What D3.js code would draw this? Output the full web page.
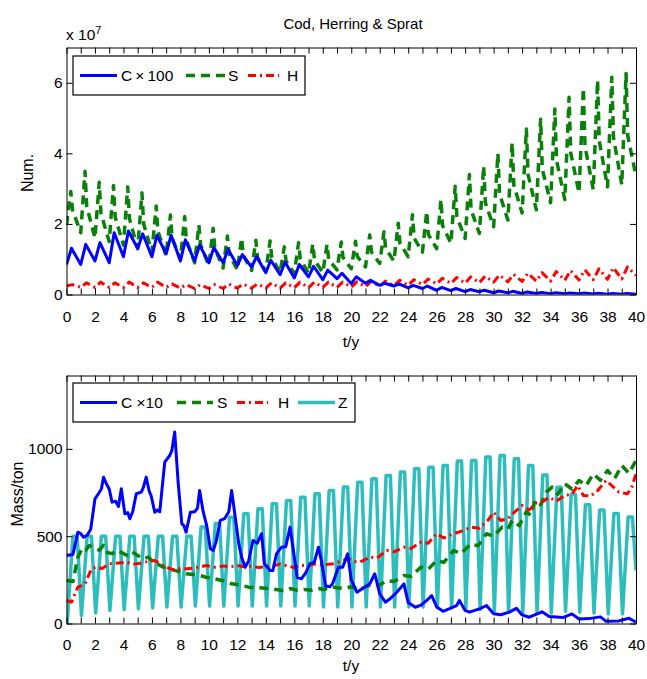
<!DOCTYPE html>
<html>
<head>
<meta charset="utf-8">
<script src="https://cdn.jsdelivr.net/npm/d3@7"></script>
<style>
  body { margin: 0; background: #fff; }
  svg text { font-family: "Liberation Sans", Arial, Helvetica, sans-serif; fill: #000; }
</style>
</head>
<body>
<svg id="chart" width="647" height="679"></svg>
<script>
// ---------- data ----------
// top panel: numbers, in units of 1e7, one value per year
const numCodPeak = [1.31, 1.42, 1.47, 1.75, 1.8, 1.72, 1.68, 1.68, 1.55, 1.4, 1.33, 1.28, 1.13, 1.07, 0.97, 0.92, 0.85, 0.8, 0.69, 0.6,
  0.5, 0.4, 0.32, 0.3, 0.26, 0.24, 0.2, 0.17, 0.14, 0.12, 0.1, 0.09, 0.07, 0.06, 0.05, 0.045, 0.04, 0.035, 0.03, 0.03];
const numCodLow = [0.85, 0.85, 0.95, 0.9, 1.07, 1.3, 1.07, 1.15, 0.95, 0.95, 0.9, 0.9, 0.82, 0.78, 0.62, 0.56, 0.47, 0.5, 0.42, 0.45,
  0.31, 0.32, 0.26, 0.24, 0.19, 0.17, 0.12, 0.11, 0.08, 0.08, 0.05, 0.05, 0.03, 0.03, 0.02, 0.02, 0.02, 0.015, 0.01, 0.01, 0.01];

const numSprPeak = [2.92, 3.49, 3.18, 3.09, 3.05, 2.88, 2.51, 2.25, 2.21, 1.97, 1.88, 1.66, 1.6, 1.54, 1.52, 1.35, 1.47, 1.43, 1.42, 1.49,
  1.51, 1.69, 1.78, 2.02, 2.26, 2.35, 2.69, 3.07, 3.4, 3.64, 4.0, 4.3, 4.69, 4.97, 5.26, 5.59, 5.85, 6.07, 6.16, 6.26];
const numSprMid = [2.4, 2.5, 2.3, 2.2, 2.15, 2.0, 1.8, 1.6, 1.55, 1.4, 1.3, 1.15, 1.1, 1.05, 1.05, 0.95, 1.0, 0.97, 0.98, 1.05,
  1.08, 1.2, 1.3, 1.45, 1.6, 1.7, 1.95, 2.2, 2.4, 2.6, 2.85, 3.1, 3.4, 3.55, 3.8, 4.0, 4.2, 4.35, 4.45, 4.5];
const numSprLow = [1.97, 1.75, 1.6, 1.5, 1.4, 1.3, 1.2, 1.1, 1.0, 0.9, 0.82, 0.75, 0.7, 0.68, 0.65, 0.62, 0.6, 0.6, 0.62, 0.7,
  0.73, 0.78, 0.88, 0.95, 1.07, 1.2, 1.3, 1.45, 1.59, 1.73, 1.92, 2.11, 2.31, 2.4, 2.6, 2.69, 2.88, 2.97, 3.05, 3.11, 3.35];

const numHerPeak = [0.28, 0.33, 0.35, 0.33, 0.35, 0.33, 0.35, 0.3, 0.28, 0.28, 0.28, 0.3, 0.3, 0.3, 0.33, 0.33, 0.35, 0.35, 0.35, 0.35,
  0.36, 0.37, 0.38, 0.4, 0.42, 0.44, 0.46, 0.48, 0.5, 0.52, 0.55, 0.57, 0.6, 0.62, 0.65, 0.68, 0.7, 0.73, 0.76, 0.78];
const numHerLow = [0.24, 0.2, 0.2, 0.2, 0.2, 0.2, 0.2, 0.2, 0.18, 0.17, 0.17, 0.17, 0.18, 0.18, 0.18, 0.18, 0.19, 0.19, 0.2, 0.2,
  0.21, 0.22, 0.23, 0.25, 0.26, 0.28, 0.3, 0.31, 0.32, 0.33, 0.35, 0.36, 0.37, 0.38, 0.38, 0.4, 0.41, 0.42, 0.43, 0.44, 0.54];

// bottom panel: mass in tons
const massCodT = [0, 0.45, 0.8, 1.0, 1.2, 1.45, 1.7, 2.0, 2.3, 2.45, 2.6, 2.8, 3.0, 3.2, 3.45, 3.65, 3.85, 4.1, 4.3, 4.45, 4.65, 4.9,
  5.25, 5.4, 5.6, 5.8, 5.95, 6.2, 6.4, 6.55, 6.9, 7.25, 7.4, 7.6, 7.85, 8.1, 8.25, 8.4, 8.7, 9.0, 9.2, 9.35, 9.6, 9.85,
  10.1, 10.3, 10.5, 10.8, 11.1, 11.4, 11.6, 11.8, 12.1, 12.3, 12.55, 12.8, 13.1, 13.4, 13.7, 13.9, 14.3, 14.5, 14.75,
  15.1, 15.4, 15.7, 15.9, 16.2, 16.5, 16.8, 17.1, 17.4, 17.7, 17.9, 18.2, 18.5, 18.7, 19.1, 19.4, 19.75, 20.0, 20.4,
  20.8, 21.3, 21.65, 22.0, 22.4, 22.7, 23.2, 23.7, 24.0, 24.5, 24.9, 25.3, 25.65, 26.0, 26.45, 26.9, 27.4, 27.6, 28.0,
  28.3, 29.0, 29.5, 30.0, 30.5, 31.1, 31.6, 32.0, 32.5, 33.4, 33.9, 34.9, 35.5, 36.0, 36.7, 37.5, 37.9, 38.8, 39.5, 40];
const massCodV = [389, 395, 523, 515, 494, 505, 540, 714, 750, 770, 838, 800, 770, 695, 700, 670, 771, 628, 635, 600, 640, 743,
  752, 780, 838, 760, 730, 637, 650, 640, 924, 962, 990, 1096, 800, 571, 560, 523, 637, 640, 660, 762, 640, 560,
  428, 418, 466, 590, 600, 640, 762, 640, 456, 380, 322, 360, 475, 460, 514, 342, 304, 304, 399,
  437, 440, 552, 440, 265, 256, 290, 342, 350, 437, 360, 215, 210, 230, 322, 322, 399, 250, 179,
  200, 227, 285, 170, 122, 140, 179, 227, 120, 93, 105, 132, 160, 95, 70, 85, 103, 132, 75,
  65, 84, 103, 56, 50, 65, 87, 49, 36, 67, 40, 35, 55, 26, 28, 38, 13, 15, 30, 8];

const massSprT = [0, 0.45, 0.8, 1.1, 1.35, 1.6, 2.0, 2.3, 2.6, 2.9, 3.2, 3.6, 4.0, 4.3, 4.6, 5.0, 5.4, 5.75, 6.1, 6.4, 6.8, 7.2,
  7.6, 8.0, 8.4, 8.9, 9.35, 9.8, 10.4, 11.0, 11.6, 12.2, 12.8, 13.5, 14.2, 14.7, 15.2, 15.7, 16.2, 16.7, 17.2, 17.7,
  18.1, 18.6, 19.0, 19.5, 20.0, 20.6, 21.0, 21.5, 22.0, 22.5, 23.0, 23.7, 24.2, 24.9, 25.4, 26.0, 26.5, 27.2, 27.7,
  28.4, 28.9, 29.5, 30.0, 30.6, 31.0, 31.3, 31.8, 32.3, 32.6, 32.9, 33.3, 33.7, 34.1, 34.5, 35.0, 35.5, 36.0, 36.5,
  37.0, 37.5, 38.0, 38.5, 39.0, 39.5, 40];
const massSprV = [246, 240, 380, 430, 420, 447, 430, 420, 447, 405, 400, 418, 400, 389, 410, 390, 370, 380, 352, 340, 323, 315,
  304, 295, 285, 280, 275, 265, 256, 245, 227, 220, 208, 205, 200, 195, 189, 200, 190, 195, 190, 200,
  195, 210, 205, 200, 210, 195, 210, 225, 220, 246, 240, 275, 270, 323, 310, 361, 350, 418, 400,
  456, 445, 514, 500, 552, 540, 590, 560, 640, 620, 704, 680, 752, 781, 740, 800, 770, 819, 790,
  857, 820, 876, 830, 905, 860, 933];

const massHerT = [0, 0.35, 0.8, 1.3, 1.75, 2.1, 2.5, 3.0, 3.5, 4.2, 4.7, 5.2, 5.7, 6.2, 6.6, 7.0, 7.6, 8.0, 8.5, 9.0, 9.35, 9.8,
  10.5, 11.0, 11.5, 12.0, 12.5, 13.0, 13.5, 14.0, 14.5, 15.0, 15.5, 16.0, 16.5, 17.0, 17.5, 18.0, 18.7, 19.2, 19.8,
  20.2, 20.6, 21.3, 21.8, 22.5, 23.0, 23.7, 24.2, 24.9, 25.4, 26.0, 26.5, 27.2, 27.8, 28.4, 29.0, 29.6, 30.0, 30.5,
  31.0, 31.5, 32.0, 32.5, 33.0, 33.5, 33.9, 34.4, 35.0, 35.5, 35.9, 36.3, 36.8, 37.3, 37.9, 38.3, 38.8, 39.4, 39.7, 40];
const massHerV = [132, 122, 208, 227, 313, 323, 315, 342, 345, 351, 340, 345, 355, 361, 340, 323, 304, 315, 313, 318, 323, 332,
  320, 330, 325, 332, 325, 330, 320, 325, 330, 340, 330, 320, 332, 335, 340, 335, 342, 355, 370,
  355, 351, 380, 375, 418, 410, 437, 430, 466, 460, 514, 490, 514, 530, 552, 545, 590, 637, 590,
  600, 640, 676, 650, 690, 700, 723, 700, 733, 740, 790, 733, 730, 760, 819, 790, 752, 743, 780, 857];

// zooplankton: yearly tops and troughs, plus start and end values
const zooPeak = [500, 500, 500, 500, 500, 500, 500, 500, 500, 552, 572, 609, 628, 657, 686, 704, 723, 743, 762, 781,
  809, 829, 848, 867, 886, 895, 905, 930, 934, 953, 962, 943, 905, 850, 780, 740, 680, 650, 630, 610];
const zooLow = [0, 46, 60, 75, 80, 85, 90, 95, 95, 100, 100, 100, 100, 100, 100, 100, 100, 100, 95, 95,
  95, 95, 95, 95, 95, 95, 92, 90, 90, 80, 70, 65, 63, 63, 60, 70, 65, 60, 55, 55];
const zooStart = 40, zooEnd = 304;

const xTicks = d3.range(0, 41);
const numTicks = [0, 2, 4, 6];
const massTicks = [0, 500, 1000];

// ---------- helpers ----------
const svg = d3.select('#chart');
const FONT = 15.5;

const x = d3.scaleLinear().domain([0, 40]).range([66.5, 636]);
const yNum = d3.scaleLinear().domain([0, 7]).range([294.5, 47.5]);
const yMass = d3.scaleLinear().domain([0, 1420]).range([623.5, 375.5]);

// build an annual sawtooth from trough/peak values
function annual(low, peak, tLow, tPeak, mid, tMid) {
  const pts = [];
  peak.forEach((p, n) => {
    pts.push([n + tLow, low[n]]);
    pts.push([n + tPeak, p]);
    if (mid) pts.push([n + tMid, mid[n]]);
  });
  if (low.length > peak.length) pts.push([Math.min(40, peak.length + tLow), low[peak.length]]);
  return pts;
}

function drawFrame(y, yTickVals, labelPad) {
  const [y0, y1] = y.range();
  const style = g => {
    g.attr('font-size', FONT).attr('font-family', null);
    g.selectAll('path, line').attr('stroke', '#000').attr('stroke-width', 1);
  };
  svg.append('g').attr('transform', `translate(0,${y0})`)
    .call(d3.axisBottom(x).tickValues(xTicks).tickSizeInner(-6).tickSizeOuter(0).tickPadding(labelPad)
      .tickFormat(d => d % 2 ? '' : d))
    .call(style);
  svg.append('g').attr('transform', `translate(0,${y1})`)
    .call(d3.axisTop(x).tickValues(xTicks).tickSizeInner(-6).tickSizeOuter(0).tickFormat(''))
    .call(style);
  svg.append('g').attr('transform', `translate(${x.range()[0]},0)`)
    .call(d3.axisLeft(y).tickValues(yTickVals).tickSizeInner(-6).tickSizeOuter(0).tickPadding(4)
      .tickFormat(d => String(d)))
    .call(style);
  svg.append('g').attr('transform', `translate(${x.range()[1]},0)`)
    .call(d3.axisRight(y).tickValues(yTickVals).tickSizeInner(-6).tickSizeOuter(0).tickFormat(''))
    .call(style);
}

function clip(id, y) {
  svg.append('clipPath').attr('id', id).append('rect')
    .attr('x', x.range()[0]).attr('y', y.range()[1])
    .attr('width', x.range()[1] - x.range()[0]).attr('height', y.range()[0] - y.range()[1]);
}

const SERIES = {
  cod: { color: '#0000ff', width: 3, dash: null },
  spr: { color: '#0a800a', width: 3.5, dash: '9,6' },
  her: { color: '#ff0000', width: 3, dash: '8,4,2,4' },
  zoo: { color: '#2dbdbd', width: 3.5, dash: null }
};

function drawLine(pts, y, s, clipId) {
  const line = d3.line().x(d => x(d[0])).y(d => y(d[1]));
  svg.append('path').datum(pts)
    .attr('clip-path', `url(#${clipId})`)
    .attr('fill', 'none')
    .attr('stroke', s.color)
    .attr('stroke-width', s.width)
    .attr('stroke-dasharray', s.dash)
    .attr('stroke-linejoin', 'round')
    .attr('d', line);
}

function legend(x0, y0, w, items) {
  const h = 39, cy = y0 + h / 2;
  svg.append('rect').attr('x', x0).attr('y', y0).attr('width', w).attr('height', h)
    .attr('fill', '#fff').attr('stroke', '#000').attr('stroke-width', 1.2);
  items.forEach(it => {
    svg.append('line').attr('x1', it.x1).attr('x2', it.x2).attr('y1', cy).attr('y2', cy)
      .attr('stroke', it.s.color).attr('stroke-width', it.s.width).attr('stroke-dasharray', it.s.dash);
    svg.append('text').attr('x', it.tx).attr('y', cy + 5.5).attr('font-size', FONT).text(it.label);
  });
}

// ---------- top panel: numbers ----------
clip('clipTop', yNum);
drawLine(annual(numSprLow, numSprPeak, 0, 0.3, numSprMid, 0.42), yNum, SERIES.spr, 'clipTop');
drawLine(annual(numHerLow, numHerPeak, 0, 0.4), yNum, SERIES.her, 'clipTop');
drawLine(annual(numCodLow, numCodPeak, 0, 0.35), yNum, SERIES.cod, 'clipTop');
drawFrame(yNum, numTicks, 16);

svg.append('text').attr('x', 353).attr('y', 29).attr('text-anchor', 'middle').attr('font-size', 15)
  .text('Cod, Herring & Sprat');
const expo = svg.append('text').attr('x', 66).attr('y', 40).attr('font-size', FONT);
expo.append('tspan').text('x 10');
expo.append('tspan').attr('dy', -6).attr('font-size', 11).text('7');
svg.append('text').attr('transform', 'translate(33,173) rotate(-90)').attr('text-anchor', 'middle')
  .attr('font-size', 16).text('Num.');
svg.append('text').attr('x', 351).attr('y', 347).attr('text-anchor', 'middle').attr('font-size', FONT).text('t/y');

legend(73, 56, 232, [
  { s: SERIES.cod, x1: 80, x2: 117, tx: 121, label: 'C\u2009×\u2009100' },
  { s: SERIES.spr, x1: 186, x2: 225, tx: 228, label: 'S' },
  { s: SERIES.her, x1: 248, x2: 279, tx: 287, label: 'H' }
]);

// ---------- bottom panel: mass ----------
const zooPts = [[0, zooStart]];
zooPeak.forEach((p, n) => {
  zooPts.push([n + 0.05, zooLow[n]]);
  zooPts.push([n + 0.45, p]);
  zooPts.push([n + 0.75, p]);
});
zooPts.push([40, zooEnd]);

clip('clipBot', yMass);
drawLine(zooPts, yMass, SERIES.zoo, 'clipBot');
drawLine(massSprT.map((t, i) => [t, massSprV[i]]), yMass, SERIES.spr, 'clipBot');
drawLine(massHerT.map((t, i) => [t, massHerV[i]]), yMass, SERIES.her, 'clipBot');
drawLine(massCodT.map((t, i) => [t, massCodV[i]]), yMass, SERIES.cod, 'clipBot');
drawFrame(yMass, massTicks, 15.5);

svg.append('text').attr('transform', 'translate(23,494) rotate(-90)').attr('text-anchor', 'middle')
  .attr('font-size', 16).text('Mass/ton');
svg.append('text').attr('x', 351).attr('y', 671).attr('text-anchor', 'middle').attr('font-size', FONT).text('t/y');

legend(73, 383, 282, [
  { s: SERIES.cod, x1: 80, x2: 117, tx: 121, label: 'C ×10' },
  { s: SERIES.spr, x1: 177, x2: 213, tx: 217, label: 'S' },
  { s: SERIES.her, x1: 237, x2: 268, tx: 278, label: 'H' },
  { s: SERIES.zoo, x1: 298, x2: 335, tx: 338, label: 'Z' }
]);
</script>
</body>
</html>
